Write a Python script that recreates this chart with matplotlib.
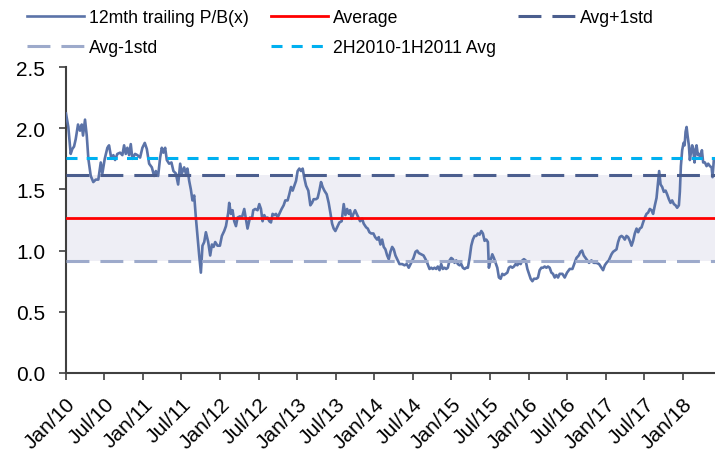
import numpy as np
import matplotlib
matplotlib.use("Agg")
import matplotlib.pyplot as plt

plt.rcParams['font.family'] = ['Liberation Sans', 'DejaVu Sans']

# months since Jan 2010, and 12m trailing P/B values
months = [0.00, 0.36, 0.73, 0.98, 1.25, 1.51, 1.87, 2.18, 2.45, 2.65, 2.96, 3.23, 3.48, 3.85, 4.25, 4.63,
          5.03, 5.41, 5.66, 6.03, 6.44, 6.70, 7.06, 7.37, 7.64, 7.99, 8.42, 8.77, 9.04, 9.30, 9.55, 9.82,
          10.08, 10.33, 10.75, 11.11, 11.53, 11.89, 12.26, 12.58, 12.94, 13.36, 13.71, 13.98, 14.34, 14.65,
          14.91, 15.16, 15.43, 15.69, 16.05, 16.41, 16.72, 17.10, 17.45, 17.77, 18.03, 18.39, 18.65, 18.90,
          19.17, 19.43, 19.68, 19.95, 20.21, 20.46, 20.73, 20.99, 21.24, 21.51, 21.77, 22.13, 22.44, 22.71,
          22.96, 23.22, 23.58, 23.95, 24.26, 24.62, 24.89, 25.25,
          25.40, 25.66, 25.92, 26.18, 26.45, 26.70, 27.07, 27.38, 27.74, 28.00, 28.25, 28.63, 28.94, 29.14,
          29.45, 29.81, 30.08, 30.34, 30.59, 30.86, 31.12, 31.37, 31.64, 31.90, 32.15, 32.42, 32.68, 32.93,
          33.19, 33.55, 33.87, 34.13, 34.49, 34.75, 35.02, 35.27, 35.53, 35.80, 36.05, 36.31, 36.58, 36.83,
          37.10, 37.36, 37.71, 38.03, 38.29, 38.54, 38.91, 39.16, 39.43, 39.69, 39.94, 40.21, 40.57, 40.88,
          41.14, 41.41, 41.66, 41.92, 42.19, 42.55, 42.90, 43.22, 43.48, 43.75, 44.00, 44.21, 44.46, 44.73,
          44.99, 45.24, 45.51, 45.77, 46.08, 46.33, 46.71, 46.96, 47.22, 47.49, 47.84, 48.11, 48.42, 48.67,
          48.93, 49.20, 49.45, 49.71, 49.98, 50.23, 50.49, 50.76, 51.01, 51.27, 51.54, 51.90,
          52.32, 52.68, 53.03, 53.34, 53.72, 54.08, 54.39, 54.65, 54.90, 55.28, 55.64, 55.95, 56.21, 56.57,
          56.84, 57.08, 57.35, 57.61, 57.86, 58.13, 58.39, 58.64, 58.91, 59.17, 59.42, 59.69, 59.95, 60.20,
          60.47, 60.73, 60.98, 61.25, 61.51, 61.76, 62.03, 62.29, 62.54, 62.81, 63.07, 63.32, 63.58, 63.85,
          64.10, 64.36, 64.63, 64.88, 65.14, 65.41, 65.66, 65.81, 66.08, 66.34, 66.59, 66.86, 67.12, 67.37,
          67.64, 67.90, 68.15, 68.41, 68.68, 68.93, 69.19, 69.46, 69.71, 69.97, 70.24, 70.49, 70.75, 71.02,
          71.27, 71.53, 71.80, 72.05, 72.31, 72.58, 72.83, 73.20, 73.45, 73.71, 73.98, 74.23, 74.49, 74.76,
          75.01, 75.27, 75.54, 75.79, 76.05, 76.31, 76.57, 76.83,
          77.25, 77.61, 77.97, 78.39, 78.81, 79.17, 79.44, 79.79, 80.06, 80.31, 80.57, 80.84, 81.09, 81.40,
          81.77, 82.13, 82.55, 82.96, 83.33, 83.58, 83.85, 84.11, 84.47, 84.89, 85.14, 85.40, 85.67, 85.92,
          86.18, 86.45, 86.70, 86.96, 87.23, 87.48, 87.74, 88.01, 88.26, 88.52, 88.79, 89.04, 89.30, 89.57,
          89.81, 90.08, 90.34, 90.59, 90.86, 91.12, 91.37, 91.64, 91.90, 92.15, 92.31, 92.53, 92.78, 93.04,
          93.31, 93.55, 93.82, 94.08, 94.33, 94.60, 94.86, 95.11, 95.38, 95.53, 95.69, 95.89, 96.11, 96.27,
          96.42, 96.58, 96.73, 96.93, 97.09, 97.25, 97.45, 97.61, 97.82, 97.98, 98.13, 98.34, 98.54, 98.76,
          98.96, 99.16, 99.43, 99.69, 99.94, 100.21, 100.47, 100.62, 100.83]

pb = [2.12, 2.01, 1.79, 1.83, 1.85, 1.91, 2.03, 1.98, 2.03, 1.94, 2.07, 1.94, 1.75, 1.61, 1.56, 1.58,
      1.58, 1.72, 1.63, 1.75, 1.84, 1.86, 1.75, 1.78, 1.74, 1.79, 1.80, 1.78, 1.86, 1.79, 1.84, 1.78,
      1.87, 1.75, 1.79, 1.78, 1.76, 1.84, 1.88, 1.83, 1.71, 1.68, 1.61, 1.65, 1.61, 1.76, 1.84, 1.80,
      1.84, 1.74, 1.71, 1.72, 1.65, 1.63, 1.54, 1.71, 1.63, 1.68, 1.63, 1.67, 1.57, 1.50, 1.41, 1.45,
      1.27, 1.12, 0.96, 0.82, 1.04, 1.07, 1.15, 1.07, 0.96, 1.05, 1.03, 1.07, 1.04, 1.04, 1.12, 1.16,
      1.20, 1.31,
      1.39, 1.30, 1.33, 1.24, 1.20, 1.27, 1.28, 1.27, 1.34, 1.26, 1.18, 1.27, 1.26, 1.33, 1.34, 1.33,
      1.38, 1.34, 1.24, 1.29, 1.26, 1.27, 1.24, 1.23, 1.30, 1.29, 1.30, 1.27, 1.30, 1.34, 1.37, 1.41,
      1.41, 1.46, 1.52, 1.49, 1.53, 1.57, 1.65, 1.67, 1.65, 1.67, 1.59, 1.53, 1.49, 1.37, 1.39, 1.42,
      1.42, 1.43, 1.49, 1.56, 1.52, 1.49, 1.46, 1.39, 1.31, 1.22, 1.18, 1.16, 1.19, 1.23, 1.24, 1.38,
      1.29, 1.34, 1.30, 1.33, 1.26, 1.30, 1.33, 1.30, 1.27, 1.24, 1.26, 1.22, 1.19, 1.18, 1.15, 1.14,
      1.14, 1.11, 1.09, 1.11, 1.05, 1.09, 1.03, 1.01, 0.96, 0.93, 0.99, 1.03, 1.01, 0.96, 0.93, 0.89,
      0.89, 0.88, 0.89, 0.86, 0.90, 0.94, 0.99, 1.00, 0.98, 0.97, 0.96, 0.93, 0.90, 0.85, 0.86, 0.85,
      0.86, 0.85, 0.87, 0.84, 0.89, 0.85, 0.86, 0.85, 0.86, 0.92, 0.94, 0.93, 0.90, 0.92, 0.89, 0.88,
      0.89, 0.86, 0.85, 0.86, 0.86, 0.94, 1.04, 1.09, 1.12, 1.12, 1.14, 1.13, 1.16, 1.14, 1.08, 1.09,
      1.07, 0.86, 0.92, 0.97, 0.94, 0.90, 0.86, 0.78, 0.77, 0.81, 0.80, 0.81, 0.82, 0.86, 0.87, 0.86,
      0.87, 0.89, 0.88, 0.90, 0.89, 0.92, 0.93, 0.92, 0.85, 0.81, 0.77, 0.75, 0.77, 0.77, 0.78, 0.84,
      0.86, 0.86, 0.87, 0.86, 0.87, 0.86, 0.82, 0.81, 0.78, 0.80, 0.78, 0.81,
      0.81, 0.78, 0.82, 0.85, 0.85, 0.90, 0.94, 0.96, 0.99, 1.00, 0.96, 0.94, 0.92, 0.90, 0.92, 0.90,
      0.90, 0.89, 0.86, 0.84, 0.88, 0.90, 0.92, 0.97, 0.99, 1.00, 1.01, 1.07, 1.11, 1.12, 1.11, 1.09,
      1.12, 1.11, 1.08, 1.04, 1.08, 1.14, 1.18, 1.15, 1.18, 1.19, 1.23, 1.27, 1.30, 1.31, 1.34, 1.33,
      1.30, 1.37, 1.43, 1.56, 1.65, 1.54, 1.52, 1.48, 1.49, 1.46, 1.42, 1.39, 1.41, 1.38, 1.37, 1.35,
      1.37, 1.48, 1.69, 1.82, 1.88, 1.86, 1.97, 2.01, 1.94, 1.86, 1.74, 1.80, 1.86, 1.82, 1.72, 1.83,
      1.86, 1.78, 1.79, 1.75, 1.82, 1.72, 1.72, 1.69, 1.71, 1.69, 1.68, 1.60, 1.75]

average = 1.265
avg_plus_1std = 1.62
avg_minus_1std = 0.915
avg_2h2010_1h2011 = 1.755

tick_labels = ['Jan/10', 'Jul/10', 'Jan/11', 'Jul/11', 'Jan/12', 'Jul/12', 'Jan/13', 'Jul/13', 'Jan/14',
               'Jul/14', 'Jan/15', 'Jul/15', 'Jan/16', 'Jul/16', 'Jan/17', 'Jul/17', 'Jan/18']

base = np.datetime64('2010-01-01T00')
dates = base + (np.array(months) * 30.4375 * 24).astype('timedelta64[h]')
dates = dates.astype('datetime64[s]').astype(object)

fig = plt.figure(figsize=(7.15, 4.56), dpi=100)
ax = fig.add_axes([66 / 715, 1 - 374 / 456, 1 - 66 / 715, (374 - 68) / 456])

xmin = np.datetime64('2010-01-01T00:00:00')
xmax = base + np.timedelta64(int(101 * 30.4375 * 24), 'h')
ax.set_xlim(xmin.astype(object), xmax.astype('datetime64[s]').astype(object))
ax.set_ylim(0, 2.5)

ax.axhspan(avg_minus_1std, avg_plus_1std, color='#EEEEF5', zorder=0, lw=0)
ax.plot(dates, pb, color='#5B73A8', lw=1.9, label='12mth trailing P/B(x)', zorder=3)
ax.axhline(average, color='#FF0000', lw=2.0, label='Average', zorder=4)
ax.axhline(avg_plus_1std, color='#4B5E8E', lw=2.2, dashes=(7.5, 3.6), label='Avg+1std', zorder=4)
ax.axhline(avg_minus_1std, color='#9DAACB', lw=2.2, dashes=(7.5, 3.6), label='Avg-1std', zorder=4)
ax.axhline(avg_2h2010_1h2011, color='#00B0F0', lw=2.2, dashes=(3.6, 3.0), label='2H2010-1H2011 Avg', zorder=4)

tick_dates = [np.datetime64('%d-%02d-01T00:00:00' % (2010 + i // 2, 1 + 6 * (i % 2))).astype(object)
              for i in range(len(tick_labels))]
ax.set_xticks(tick_dates)
ax.set_xticklabels(tick_labels, rotation=45, ha='right', rotation_mode='anchor', fontsize=15)
ax.set_yticks([0, 0.5, 1.0, 1.5, 2.0, 2.5])
ax.set_yticklabels(['0.0', '0.5', '1.0', '1.5', '2.0', '2.5'], fontsize=15)
ax.tick_params(axis='y', length=5, width=1.2, pad=10, color='#404040')
ax.tick_params(axis='x', length=5, width=1.2, pad=10, color='#404040')

for s in ['top', 'right']:
    ax.spines[s].set_visible(False)
for s in ['left', 'bottom']:
    ax.spines[s].set_linewidth(1.5)
    ax.spines[s].set_color('#404040')

handles, labels = ax.get_legend_handles_labels()
order = [0, 3, 1, 4, 2]
fig.legend([handles[i] for i in order], [labels[i] for i in order], ncol=3, loc='upper left',
           bbox_to_anchor=(27 / 715, 1 - 10 / 456), frameon=False, fontsize=12.7,
           handlelength=3.23, handletextpad=0.28, columnspacing=1.25, labelspacing=0.74, borderpad=0,
           borderaxespad=0)

fig.savefig('out.png', dpi=100)
